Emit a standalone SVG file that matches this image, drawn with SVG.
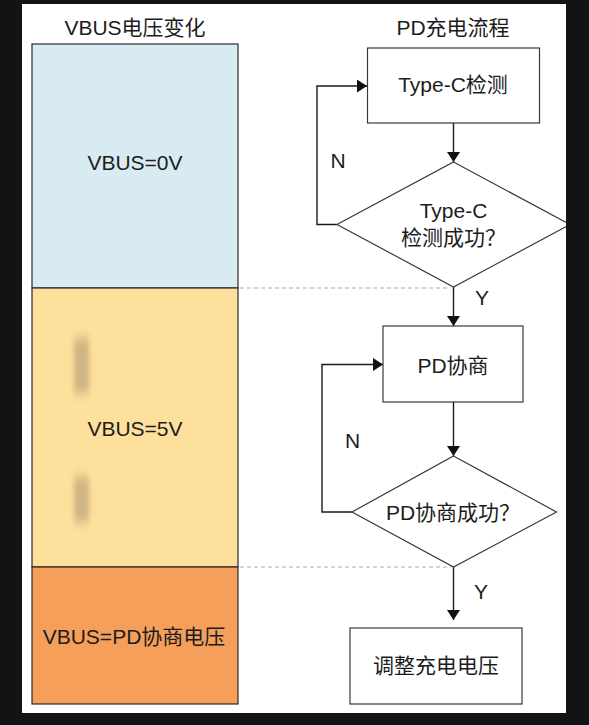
<svg xmlns="http://www.w3.org/2000/svg" width="589" height="725" viewBox="0 0 589 725">
<style>
.t{font-family:"Liberation Sans","Noto Sans CJK SC",Arial,sans-serif;font-size:21px;fill:#1c1c1c;text-anchor:middle}
.box{fill:#ffffff;stroke:#3a3a3a;stroke-width:1.2}
.seg{stroke:#2a2a2a;stroke-width:1.2}
.ln{fill:none;stroke:#1a1a1a;stroke-width:1.4}
.dash{fill:none;stroke:#aaaaaa;stroke-width:1;stroke-dasharray:4 3}
</style>
<defs>
<marker id="ah" viewBox="0 0 10 13" refX="10" refY="6.5" markerWidth="10" markerHeight="13" markerUnits="userSpaceOnUse" orient="auto">
<path d="M0,0 L10,6.5 L0,13 Z" fill="#111"/>
</marker>
<filter id="blur" x="-1" y="-0.5" width="3" height="2"><feGaussianBlur stdDeviation="2.5 6"/></filter>
</defs>
<rect x="0" y="0" width="589" height="725" fill="#121315"/>
<rect x="22" y="4" width="544" height="709" fill="#ffffff"/>

<g id="titles">
<text class="t" x="135" y="34.5">VBUS电压变化</text>
<text class="t" x="453" y="34.5">PD充电流程</text>
</g>

<g id="vbus-0v">
<rect class="seg" x="32" y="44" width="206" height="244" fill="#d8ebf3"/>
<text class="t" x="135" y="170">VBUS=0V</text>
</g>
<g id="vbus-5v">
<rect class="seg" x="32" y="288" width="206" height="279" fill="#fde09c"/>
<rect x="74" y="338" width="15" height="55" fill="#a89170" opacity="0.55" filter="url(#blur)"/>
<rect x="74" y="477" width="15" height="45" fill="#a89170" opacity="0.55" filter="url(#blur)"/>
<text class="t" x="135" y="436">VBUS=5V</text>
</g>
<g id="vbus-pd">
<rect class="seg" x="32" y="567" width="206" height="137" fill="#f59f5b"/>
<text class="t" x="134" y="644">VBUS=PD协商电压</text>
</g>

<g id="connectors">
<path class="dash" d="M240,288 H451"/>
<path class="dash" d="M240,567 H451"/>
<path class="ln" d="M453.5,123 V162" marker-end="url(#ah)"/>
<path class="ln" d="M337,224.5 H317 V86 H367" marker-end="url(#ah)"/>
<path class="ln" d="M453.5,287 V326" marker-end="url(#ah)"/>
<path class="ln" d="M453.5,402 V456" marker-end="url(#ah)"/>
<path class="ln" d="M352,512 H322 V364.5 H383" marker-end="url(#ah)"/>
<path class="ln" d="M453.5,567 V620" marker-end="url(#ah)"/>
<text class="t" x="338" y="168">N</text>
<text class="t" x="482" y="304.5">Y</text>
<text class="t" x="352.5" y="448">N</text>
<text class="t" x="481" y="599">Y</text>
</g>

<g id="typec-detect">
<rect class="box" x="367.5" y="48" width="172" height="75"/>
<text class="t" x="453" y="92">Type-C检测</text>
</g>
<g id="typec-ok">
<path class="box" d="M453.5,162 L570,224.5 L453.5,287 L337,224.5 Z"/>
<text class="t" x="453.5" y="218">Type-C</text>
<text class="t" x="453.5" y="245">检测成功？</text>
</g>
<g id="pd-negotiate">
<rect class="box" x="383" y="326" width="140" height="76"/>
<text class="t" x="453" y="373">PD协商</text>
</g>
<g id="pd-ok">
<path class="box" d="M453.5,456 L556.5,512 L453.5,567 L352,512 Z"/>
<text class="t" x="453" y="519.5">PD协商成功？</text>
</g>
<g id="adjust">
<rect class="box" x="350" y="628" width="172" height="76"/>
<text class="t" x="436" y="673">调整充电电压</text>
</g>
<rect x="566" y="0" width="23" height="725" fill="#121315"/>
</svg>
